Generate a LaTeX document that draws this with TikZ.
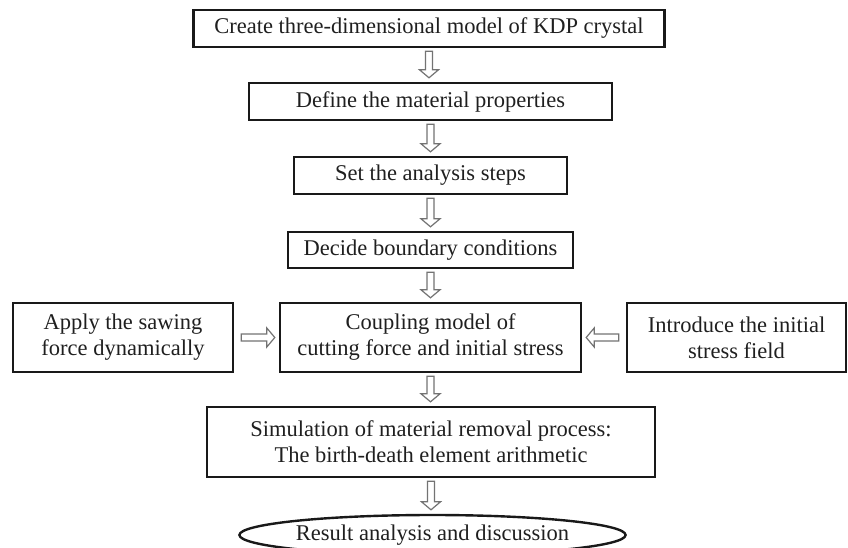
\documentclass[tikz,border=0pt]{standalone}
\usepackage{fontspec}
\setmainfont{Liberation Serif}
\usepackage{tikz}
\usetikzlibrary{calc}
\usetikzlibrary{shapes.geometric}

\tikzset{
  stepbox/.style={draw=black!90, line width=2.4pt, inner sep=0pt, align=center,
    text=black!88, font=\fontsize{22.5}{26}\selectfont},
  blockarr/.style={draw=black!55, line width=1.2pt, fill=white}
}
\newcommand{\vblock}[2]{%
  \draw [blockarr] let \p1=(#1.south), \p2=(#2.north) in
    (\x1-3.5pt,\y1-3pt) -- (\x1-3.5pt,\y2+12pt) -- (\x1-9.5pt,\y2+12pt) -- (\x1,\y2+4pt)
    -- (\x1+9.5pt,\y2+12pt) -- (\x1+3.5pt,\y2+12pt) -- (\x1+3.5pt,\y1-3pt) -- cycle;}
\newcommand{\hblock}[3]{%
  \draw [blockarr] let \p1=(#1), \p2=(#2) in
    (\x1+#3*7pt,\y1-3.5pt) -- (\x2-#3*12pt,\y1-3.5pt) -- (\x2-#3*12pt,\y1-9.5pt) -- (\x2-#3*4pt,\y1)
    -- (\x2-#3*12pt,\y1+9.5pt) -- (\x2-#3*12pt,\y1+3.5pt) -- (\x1+#3*7pt,\y1+3.5pt) -- cycle;}

\begin{document}
\begin{tikzpicture}[x=1pt, y=1pt]
    \useasboundingbox (0, 0) rectangle (848, -548);

    \node [stepbox, minimum width=471, minimum height=37] (model) at (429, -28.5) {Create three-dimensional model of KDP crystal};
    \node [stepbox, minimum width=363, minimum height=37] (material) at (430.5, -101.5) {Define the material properties};
    \node [stepbox, minimum width=273, minimum height=37] (steps) at (430.5, -175.5) {Set the analysis steps};
    \node [stepbox, minimum width=285, minimum height=36] (boundary) at (430.5, -250) {Decide boundary conditions};
    \node [stepbox, minimum width=220, minimum height=69] (sawing) at (123, -337.5) {Apply the sawing\\force dynamically};
    \node [stepbox, minimum width=301, minimum height=69] (coupling) at (430.5, -337.5) {Coupling model of\\cutting force and initial stress};
    \node [stepbox, minimum width=219, minimum height=69] (stress) at (736.5, -337.5) {Introduce the initial\\stress field};
    \node [stepbox, minimum width=448, minimum height=70] (removal) at (431, -442) {Simulation of material removal process:\\The birth-death element arithmetic};
    \node [stepbox, ellipse, minimum width=342, minimum height=40] (result) at (432.5, -535) {Result analysis and discussion};

    \vblock{model}{material}
    \vblock{material}{steps}
    \vblock{steps}{boundary}
    \vblock{boundary}{coupling}
    \vblock{coupling}{removal}
    \vblock{removal}{result}
    \hblock{sawing.east}{coupling.west}{1}
    \hblock{stress.west}{coupling.east}{-1}
  \end{tikzpicture}
\end{document}
